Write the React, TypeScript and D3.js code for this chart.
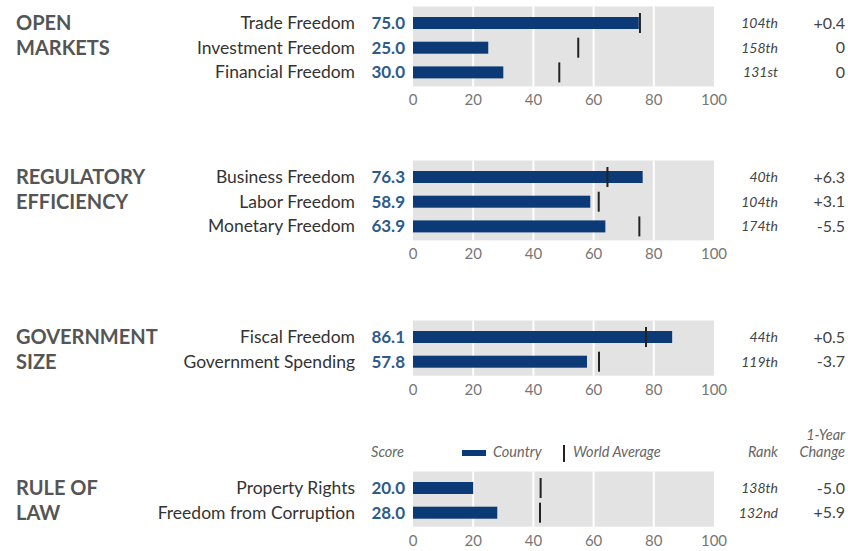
import React from 'react';
import * as d3 from 'd3';

// groups and their factors
const groupTitles = [['OPEN', 'MARKETS'], ['REGULATORY', 'EFFICIENCY'], ['GOVERNMENT', 'SIZE'], ['RULE OF', 'LAW']];
const factors = [
    ['Trade Freedom', 'Investment Freedom', 'Financial Freedom'],
    ['Business Freedom', 'Labor Freedom', 'Monetary Freedom'],
    ['Fiscal Freedom', 'Government Spending'],
    ['Property Rights', 'Freedom from Corruption'],
];
const scores = [[75.0, 25.0, 30.0], [76.3, 58.9, 63.9], [86.1, 57.8], [20.0, 28.0]];
const worldAvg = [[75.4, 54.9, 48.6], [64.6, 61.7, 75.2], [77.4, 61.8], [42.4, 42.2]];
const ranks = [['104th', '158th', '131st'], ['40th', '104th', '174th'], ['44th', '119th'], ['138th', '132nd']];
const changes = [['+0.4', '0', '0'], ['+6.3', '+3.1', '-5.5'], ['+0.5', '-3.7'], ['-5.0', '+5.9']];
const tickValues = [0, 20, 40, 60, 80, 100];

// first row position of each group
const groupTop = [23, 177, 337, 488];
const rowStep = 24.7;

const FONT = 'Lato, "Open Sans", sans-serif';
const NAVY = '#0c3a76';
const GREY_TEXT = '#555';

export default function App() {
    const width = 848, height = 551;

    const x = d3.scaleLinear().domain([0, 100]).range([413, 714]);

    const groups = factors.map((names, g) => {
        const y0 = groupTop[g];
        const yRow = (i: number) => y0 + i * rowStep;
        const last = yRow(names.length - 1);
        const bgTop = y0 - 16.5;
        const bgBottom = last + 14;

        return (
            <g key={g}>
                {groupTitles[g].map((t, i) => (
                    <text key={t} x={16} y={yRow(i) + 7} fontFamily={FONT} fontWeight={700}
                          fontSize={20} fill={GREY_TEXT}>{t}</text>
                ))}
                <rect x={x(0)} y={bgTop} width={x(100) - x(0)} height={bgBottom - bgTop} fill="#e3e3e3"/>
                {tickValues.slice(1, -1).map(t => (
                    <line key={t} x1={x(t)} x2={x(t)} y1={bgTop} y2={bgBottom} stroke="#fff" strokeWidth={2}/>
                ))}
                {tickValues.map(t => (
                    <text key={'t' + t} x={x(t)} y={last + 33} textAnchor="middle" fontFamily={FONT}
                          fontSize={15} fill="#777">{t}</text>
                ))}
                {names.map((n, i) => {
                    const y = yRow(i);
                    return (
                        <g key={n}>
                            <text x={355} y={y + 6} textAnchor="end" fontFamily={FONT} fontSize={17.5}
                                  fill="#333">{n}</text>
                            <text x={405} y={y + 6} textAnchor="end" fontFamily={FONT} fontWeight={700}
                                  fontSize={17} fill="#2d5b8c">{scores[g][i].toFixed(1)}</text>
                            <rect x={x(0)} y={y - 6} width={x(scores[g][i]) - x(0)} height={12} fill={NAVY}/>
                            <line x1={x(worldAvg[g][i])} x2={x(worldAvg[g][i])} y1={y - 10} y2={y + 10}
                                  stroke="#222" strokeWidth={2}/>
                            <text x={778} y={y + 5} textAnchor="end" fontFamily={FONT} fontStyle="italic"
                                  fontSize={14} fill="#444">{ranks[g][i]}</text>
                            <text x={845} y={y + 5.5} textAnchor="end" fontFamily={FONT}
                                  fontSize={16} fill="#444">{changes[g][i]}</text>
                        </g>
                    );
                })}
            </g>
        );
    });

    return (
        <svg width={width} height={height} style={{position: 'absolute', left: 0, top: 0, background: '#fff'}}>
            {groups}
            {/* legend */}
            <g fontFamily={FONT} fontStyle="italic" fontSize={14.5} fill="#666">
                <text x={404} y={457} textAnchor="end">Score</text>
                <rect x={462} y={450} width={24} height={6} fill={NAVY}/>
                <text x={493} y={457}>Country</text>
                <line x1={564} x2={564} y1={445} y2={462} stroke="#222" strokeWidth={2}/>
                <text x={573} y={457}>World Average</text>
                <text x={778} y={457} textAnchor="end">Rank</text>
                <text x={845} y={440} textAnchor="end">1-Year</text>
                <text x={845} y={457} textAnchor="end">Change</text>
            </g>
        </svg>
    );
}
